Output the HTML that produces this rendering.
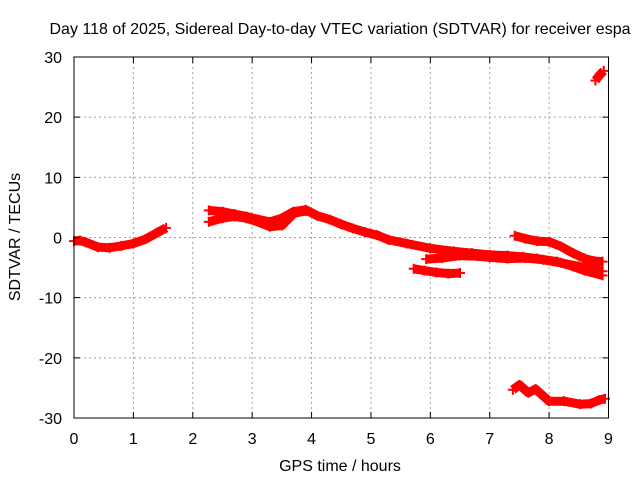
<!DOCTYPE html>
<html><head><meta charset="utf-8"><style>
body{margin:0;background:#fff}
svg text{font-family:"Liberation Sans",sans-serif;font-size:16px;fill:#000}
</style></head><body>
<svg id="chart" width="640" height="480" xmlns="http://www.w3.org/2000/svg">
<g id="grid"></g>
<g id="series"></g>
<rect x="74" y="57" width="534.5" height="361" fill="none" stroke="#000" stroke-width="1"/>
<g id="ticks"></g>
<text x="340" y="34" text-anchor="middle">Day 118 of 2025, Sidereal Day-to-day VTEC variation (SDTVAR) for receiver espa</text>
<text x="340" y="471" text-anchor="middle">GPS time / hours</text>
<text transform="translate(20,237) rotate(-90)" text-anchor="middle">SDTVAR / TECUs</text>
</svg>
<script>
const xTicks=[0,1,2,3,4,5,6,7,8,9];
const yTicks=[-30,-20,-10,0,10,20,30];
const aHours=[0,0.1,0.2,0.4,0.6,0.8,1.0,1.2,1.4,1.55];
const aVals=[-0.6,-0.5,-0.8,-1.6,-1.7,-1.4,-1.0,-0.3,0.8,1.6];
const bHours=[2.27,2.5,2.7,2.9,3.1,3.3,3.5,3.7,3.9,4.1,4.3,4.5,4.7,4.9,5.1,5.3,5.6,6.0,6.4,6.7,7.0,7.3,7.56,7.8,8.13,8.4,8.6,8.9];
const bVals=[4.5,4.3,3.9,3.5,3.0,2.6,3.2,4.3,4.6,3.6,3.0,2.2,1.5,0.9,0.4,-0.4,-1.0,-1.8,-2.3,-2.6,-2.9,-3.0,-3.2,-3.5,-4.0,-4.8,-5.5,-6.3];
const b2Hours=[2.27,2.5,2.7,2.9,3.1,3.3,3.5,3.7,3.9];
const b2Vals=[2.6,3.2,3.5,3.2,2.6,1.8,2.0,4.0,4.4];
const cHours=[5.93,6.2,6.5,6.8,7.0,7.3,7.6,7.9,8.2,8.5,8.9];
const cVals=[-3.6,-3.4,-3.0,-3.1,-3.3,-3.5,-3.4,-3.7,-4.2,-4.8,-5.6];
const dHours=[5.72,5.9,6.1,6.3,6.5];
const dVals=[-5.2,-5.5,-5.8,-6.0,-5.9];
const eHours=[7.42,7.6,7.8,8.0,8.2,8.4,8.6,8.75,8.9];
const eVals=[0.3,-0.2,-0.6,-0.7,-1.5,-2.6,-3.5,-3.9,-4.0];
const fHours=[8.78,8.85,8.92];
const fVals=[26.1,27.0,27.7];
const gHours=[7.39,7.5,7.65,7.77,8.0,8.25,8.52,8.7,8.85,8.94];
const gVals=[-25.3,-24.5,-25.8,-25.2,-27.2,-27.2,-27.7,-27.6,-27.0,-26.8];
const NS="http://www.w3.org/2000/svg";
const X=h=>74+h*(534.5/9), Y=v=>237.5-v*(361/60);
const grid=document.getElementById('grid'),ticks=document.getElementById('ticks'),ser=document.getElementById('series');
function mk(tag,at,p){const e=document.createElementNS(NS,tag);for(const k in at)e.setAttribute(k,at[k]);p.appendChild(e);return e;}
xTicks.forEach(t=>{
 if(t>0&&t<9){const l=mk('line',{x1:X(t),x2:X(t),y1:57,y2:418,stroke:'#a0a0a0','stroke-dasharray':'2,3'},grid);
 
 }
 const tk=mk('path',{d:`M${X(t)} 418v-6M${X(t)} 57v6`,stroke:'#000'},ticks);
 
 
 const tx=mk('text',{x:X(t),y:444,'text-anchor':'middle'},ticks);tx.textContent=t;
 
 
});
yTicks.forEach(t=>{
 if(t>-30&&t<30){const l=mk('line',{x1:74,x2:608.5,y1:Y(t),y2:Y(t),stroke:'#a0a0a0','stroke-dasharray':'2,3'},grid);
 
 }
 const tk=mk('path',{d:`M74 ${Y(t)}h6M608.5 ${Y(t)}h-6`,stroke:'#000'},ticks);
 
 
 const tx=mk('text',{x:62,y:Y(t)+6,'text-anchor':'end'},ticks);tx.textContent=t;
 
 
});
[[aHours,aVals,'series-a'],[bHours,bVals,'series-b'],[b2Hours,b2Vals,'series-b2'],[cHours,cVals,'series-c'],[dHours,dVals,'series-d'],[eHours,eVals,'series-e'],[fHours,fVals,'series-f'],[gHours,gVals,'series-g']].forEach(([hs,vs,n])=>{
 const pts=hs.map((h,i)=>X(h).toFixed(1)+','+Y(vs[i]).toFixed(1)).join(' ');
 const pl=mk('polyline',{points:pts,fill:'none',stroke:'#ff0000','stroke-width':9,'stroke-linejoin':'round'},ser);
 
 
 hs.forEach((h,i)=>{const m=mk('path',{d:`M${X(h)-5} ${Y(vs[i])}h10M${X(h)} ${Y(vs[i])-5}v10`,stroke:'#ff0000','stroke-width':2},ser);
 
 });
});
</script>
</body></html>
